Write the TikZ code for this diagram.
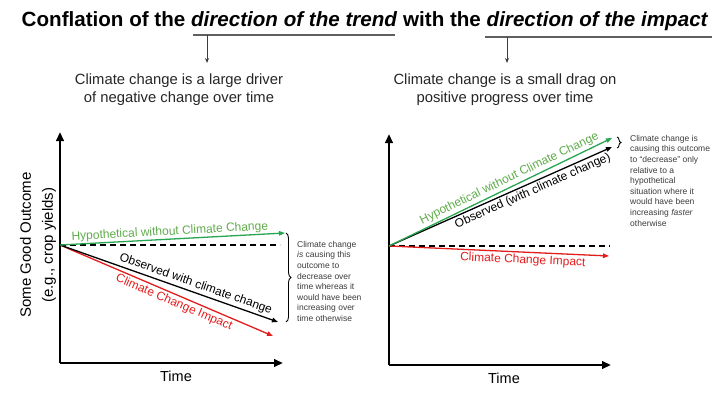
\documentclass[tikz,border=0pt]{standalone}
\usepackage{fontspec}
\setmainfont{Liberation Sans}
\usetikzlibrary{arrows.meta,decorations.pathreplacing}
\definecolor{cgreen}{RGB}{40,165,80}
\definecolor{cgreentext}{RGB}{95,172,75}
\definecolor{cred}{RGB}{228,28,28}
\definecolor{cgray}{RGB}{60,60,60}
\definecolor{cline}{RGB}{95,95,95}
\begin{document}
\begin{tikzpicture}[x=1pt,y=-1pt,
  axis/.style={line width=2.2pt, -{Triangle[length=9pt,width=7.5pt]}},
  trend/.style={line width=1.3pt, -{Triangle[length=6pt,width=4.5pt]}},
  baseline/.style={line width=1.1pt, dash pattern=on 6pt off 4pt},
  lbl/.style={font=\fontsize{12}{14}\selectfont, inner sep=2pt, sloped},
  note/.style={font=\fontsize{8.5}{10.6}\selectfont, text=cgray, align=left, inner sep=0pt, anchor=north west},
  sub/.style={font=\fontsize{14.8}{18}\selectfont, align=center, text=black!85},
  pointer/.style={line width=0.9pt, draw=cgray, -{Stealth[length=5pt,width=4pt]}},
  uline/.style={line width=1.5pt, draw=cline},
  bracedeco/.style={line width=0.9pt, decorate, decoration={brace, amplitude=#1}},
  timelbl/.style={font=\fontsize{14.5}{17}\selectfont}
]
\useasboundingbox (0,0) rectangle (725,394);
\fill[white] (0,0) rectangle (725,394);

% Title
\node[anchor=base, font=\fontsize{20.6}{24}\selectfont\bfseries, inner sep=0pt] (title) at (365,26)
  {Conflation of the \textit{direction of the trend} with the \textit{direction of the impact}};

% underlines and pointers
\coordinate (u1a) at (193,35); \coordinate (u1b) at (395,35);
\coordinate (u2a) at (485,37); \coordinate (u2b) at (712,37);
\draw[uline] (u1a) -- (u1b);
\draw[uline] (u2a) -- (u2b);
\coordinate (p1s) at (207,35); \coordinate (p1e) at (207,63);
\coordinate (p2s) at (507,37); \coordinate (p2e) at (507,63);
\draw[pointer] (p1s) -- (p1e);
\draw[pointer] (p2s) -- (p2e);

% subtitles
\node[sub] (sub1) at (179,89.5) {Climate change is a large driver\\of negative change over time};
\node[sub] (sub2) at (505,89.5) {Climate change is a small drag on\\positive progress over time};

% ---------- Left panel ----------
\coordinate (L0) at (60,363);
\coordinate (LY) at (60,132);
\coordinate (LX) at (283,363);
\draw[axis] (L0) -- (LY);
\draw[axis] (L0) -- (LX);
\node[rotate=90, align=center, font=\fontsize{15}{22}\selectfont] (ylab) at (38,245)
  {Some Good Outcome\\(e.g., crop yields)};
\node[timelbl] (time1) at (176,376) {Time};

\coordinate (LO) at (60,245);
\coordinate (LG) at (285,233);
\coordinate (LD) at (280,245);
\coordinate (LB) at (278,322);
\coordinate (LR) at (273,336);
\draw[baseline] (LO) -- (LD);
\draw[trend, cred] (LO) -- node[lbl, below, pos=0.55, text=cred] (lrt) {Climate Change Impact} (LR);
\draw[trend, black] (LO) -- node[lbl, above, pos=0.61] (lbt) {Observed with climate change} (LB);
\draw[trend, cgreen] (LO) -- node[lbl, above, pos=0.49, text=cgreentext, yshift=-1pt] (lgt) {Hypothetical without Climate Change} (LG);

\coordinate (LBr1) at (286,233);
\coordinate (LBr2) at (286,322);
\draw[bracedeco=5pt] (LBr1) -- (LBr2);
\node[note] (note1) at (297,241)
  {Climate change\\\textit{is} causing this\\outcome to\\decrease over\\time whereas it\\would have been\\increasing over\\time otherwise};

% ---------- Right panel ----------
\coordinate (R0) at (389,365);
\coordinate (RY) at (389,134);
\coordinate (RX) at (611,365);
\draw[axis] (R0) -- (RY);
\draw[axis] (R0) -- (RX);
\node[timelbl] (time2) at (504,378) {Time};

\coordinate (RO) at (389,246);
\coordinate (RG) at (612,138);
\coordinate (RD) at (610,246);
\coordinate (RB) at (612,147);
\coordinate (RR) at (609,256);
\draw[baseline] (RO) -- (RD);
\draw[trend, cred] (RO) -- node[lbl, below, pos=0.61, text=cred] (rrt) {Climate Change Impact} (RR);
\draw[trend, black] (RO) -- node[lbl, below, pos=0.63] (rbt) {Observed (with climate change)} (RB);
\draw[trend, cgreen] (RO) -- node[lbl, above, pos=0.556, text=cgreentext] (rgt) {Hypothetical without Climate Change} (RG);

\coordinate (RBr1) at (617,137);
\coordinate (RBr2) at (617,148);
\draw[bracedeco=4pt] (RBr1) -- (RBr2);
\node[note] (note2) at (630,135)
  {Climate change is\\causing this outcome\\to ``decrease'' only\\relative to a\\hypothetical\\situation where it\\would have been\\increasing \textit{faster}\\otherwise};
\end{tikzpicture}
\end{document}
